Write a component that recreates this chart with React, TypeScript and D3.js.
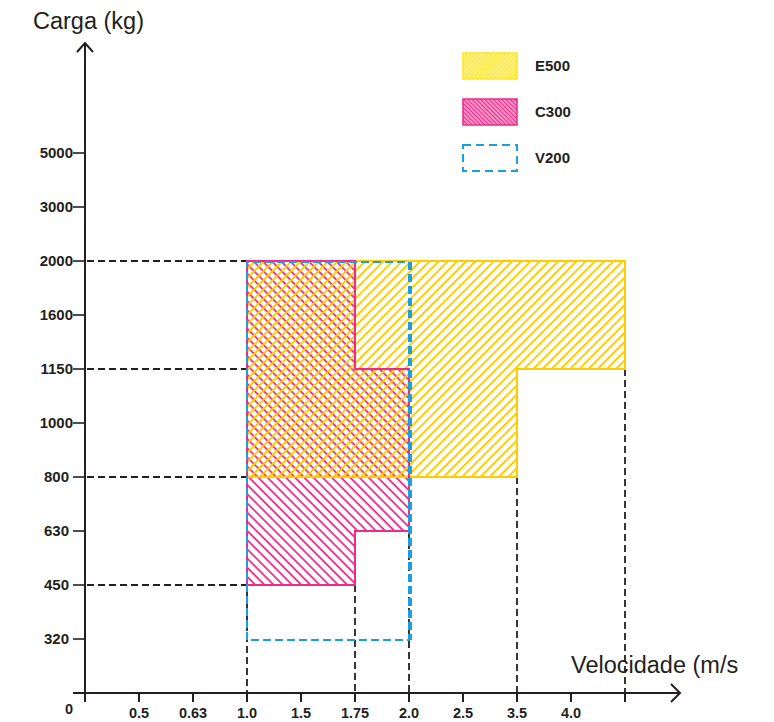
import React from "react";
import * as d3 from "d3";

const xKeys = ["0", "0.5", "0.63", "1.0", "1.5", "1.75", "2.0", "2.5", "3.5", "4.0", "max"];
const xLabels = ["", "0.5", "0.63", "1.0", "1.5", "1.75", "2.0", "2.5", "3.5", "4.0", ""];
const yKeys = ["0", "320", "450", "630", "800", "1000", "1150", "1600", "2000", "3000", "5000"];
const yLabels = ["", "320", "450", "630", "800", "1000", "1150", "1600", "2000", "3000", "5000"];

const seriesNames = ["E500", "C300", "V200"];
const e500: [string, string][] = [["1.0", "800"], ["1.0", "2000"], ["max", "2000"], ["max", "1150"], ["3.5", "1150"], ["3.5", "800"]];
const c300: [string, string][] = [["1.0", "450"], ["1.0", "2000"], ["1.75", "2000"], ["1.75", "1150"], ["2.0", "1150"], ["2.0", "630"], ["1.75", "630"], ["1.75", "450"]];
const v200: [string, string][] = [["1.0", "320"], ["1.0", "2000"], ["2.0", "2000"], ["2.0", "320"]];

const hGuides = ["2000", "1150", "800", "450"];
const vGuides: [string, string][] = [["1.0", "2000"], ["1.75", "450"], ["2.0", "630"], ["3.5", "800"], ["max", "1150"]];

const YELLOW = "#FFCC00";
const PINK = "#EC2A8C";
const BLUE = "#1C9FDC";
const INK = "#231F20";
const FONT = "'Liberation Sans', Arial, sans-serif";

export default function App() {
  const x = d3.scalePoint<string>().domain(xKeys).range([85, 625]);
  const y = d3.scalePoint<string>().domain(yKeys).range([693, 153]);
  const line = d3.line<[string, string]>().x(d => x(d[0])!).y(d => y(d[1])!);
  const poly = (pts: [string, string][]) => line(pts)! + "Z";
  const x0 = x("0")!;
  const y0 = y("0")!;

  return (
    <svg width={774} height={722} style={{ position: "absolute", left: 0, top: 0 }} fontFamily={FONT}>
      <defs>
        <pattern id="hE" patternUnits="userSpaceOnUse" width={6.5} height={6.5} patternTransform="rotate(45)">
          <line x1={1} y1={0} x2={1} y2={6.5} stroke={YELLOW} strokeWidth={2} />
        </pattern>
        <pattern id="hC" patternUnits="userSpaceOnUse" width={6.5} height={6.5} patternTransform="rotate(-45)">
          <line x1={1} y1={0} x2={1} y2={6.5} stroke={PINK} strokeWidth={1.8} />
        </pattern>
        <pattern id="lE" patternUnits="userSpaceOnUse" width={3} height={3} patternTransform="rotate(45)">
          <rect width={3} height={3} fill="#FFE61A" />
          <line x1={1} y1={0} x2={1} y2={3} stroke="#fff" strokeWidth={1} />
        </pattern>
        <pattern id="lC" patternUnits="userSpaceOnUse" width={3} height={3} patternTransform="rotate(-45)">
          <rect width={3} height={3} fill={PINK} />
          <line x1={1} y1={0} x2={1} y2={3} stroke="#fff" strokeWidth={1} />
        </pattern>
      </defs>

      {/* guides */}
      {hGuides.map(k => (
        <line key={"h" + k} x1={x0 + 2} x2={x("1.0")} y1={y(k)} y2={y(k)} stroke={INK} strokeWidth={1.8} strokeDasharray="7,4" />
      ))}
      {vGuides.map(([k, v]) => (
        <line key={"v" + k} x1={x(k)} x2={x(k)} y1={y(v)} y2={y0 + 9} stroke={INK} strokeWidth={1.8} strokeDasharray="7,4" />
      ))}

      {/* series fills */}
      <path d={poly(c300)} fill="url(#hC)" />
      <path d={poly(e500)} fill="url(#hE)" />
      <path d={poly(e500)} fill="none" stroke={YELLOW} strokeWidth={2} />
      <path d={poly(c300)} fill="none" stroke={PINK} strokeWidth={2} />
      <path d={poly(v200)} fill="none" stroke={BLUE} strokeWidth={2} strokeDasharray="8,4" transform="translate(0,1)" />
      <line x1={x("2.0")! + 2} x2={x("2.0")! + 2} y1={y("2000")! + 1} y2={y("320")! + 1} stroke={BLUE} strokeWidth={2} strokeDasharray="8,4" />

      {/* axes */}
      <line x1={x0} x2={x0} y1={43} y2={y0 + 9} stroke={INK} strokeWidth={2} />
      <polyline points={`${x0 - 8},52 ${x0},43 ${x0 + 8},52`} fill="none" stroke={INK} strokeWidth={2} />
      <line x1={73} x2={680} y1={y0} y2={y0} stroke={INK} strokeWidth={2} />
      <polyline points={`671,684 680,${y0} 671,702`} fill="none" stroke={INK} strokeWidth={2} />

      {xKeys.map((k, i) =>
        i === 0 ? null : (
          <g key={"xt" + k}>
            <line x1={x(k)} x2={x(k)} y1={y0} y2={y0 + 9} stroke={INK} strokeWidth={2} />
            <text x={x(k)} y={718} textAnchor="middle" fontSize={14.5} fontWeight="bold" fill={INK}>{xLabels[i]}</text>
          </g>
        )
      )}
      <text x={69} y={714} textAnchor="middle" fontSize={14.5} fontWeight="bold" fill={INK}>0</text>

      {yKeys.map((k, i) =>
        i === 0 ? null : (
          <g key={"yt" + k}>
            <line x1={73} x2={x0} y1={y(k)} y2={y(k)} stroke={INK} strokeWidth={1.6} />
            <text x={yLabels[i].length === 3 ? 69 : 73} y={y(k)! + 5} textAnchor="end" fontSize={15} fontWeight="bold" fill={INK}>{yLabels[i]}</text>
          </g>
        )
      )}

      <text x={33} y={29} fontSize={23.5} fill={INK}>Carga (kg)</text>
      <text x={571} y={673} fontSize={23.5} fill={INK}>Velocidade (m/s</text>

      {/* legend */}
      <rect x={463} y={53} width={54} height={26} fill="url(#lE)" stroke="#FFE61A" strokeWidth={1.5} />
      <rect x={463} y={99} width={54} height={26} fill="url(#lC)" stroke={PINK} strokeWidth={1.5} />
      <rect x={463} y={145} width={54} height={26} fill="none" stroke={BLUE} strokeWidth={2} strokeDasharray="8,5" />
      {seriesNames.map((n, i) => (
        <text key={n} x={535} y={71 + i * 46} fontSize={15} fontWeight="bold" fill={INK}>{n}</text>
      ))}
    </svg>
  );
}
